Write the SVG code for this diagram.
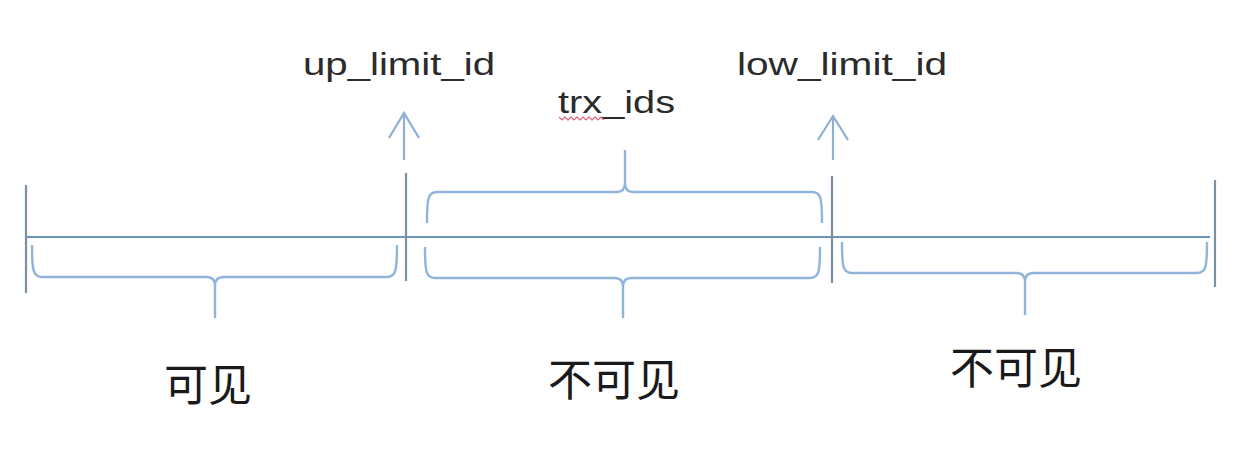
<svg xmlns="http://www.w3.org/2000/svg" width="1256" height="451" viewBox="0 0 1256 451">
<style>
.lbl{font-family:"Liberation Sans","Noto Sans",sans-serif;font-size:32px;fill:#2b2b2b}
.cjk{font-family:"Noto Sans CJK SC","Noto Sans",sans-serif;font-size:44px;fill:#1a1a1a;text-anchor:middle}
.axis{stroke:#6a93ba;stroke-width:2.2;fill:none}
.tick{stroke:#7b90a5;stroke-width:2.2;fill:none}
.brace{stroke:#90b4da;stroke-width:2.4;fill:none;stroke-linejoin:round}
.arrow{stroke:#8fb0d2;stroke-width:2.2;fill:none}
</style>
<rect width="1256" height="451" fill="#ffffff"/>
<g id="connectors">
<line class="axis" x1="26" y1="237" x2="1210" y2="237"/>
<line class="tick" x1="26" y1="185" x2="26" y2="293"/>
<line class="tick" x1="406" y1="173" x2="406" y2="281"/>
<line class="tick" x1="832" y1="176" x2="832" y2="283"/>
<line class="tick" x1="1215" y1="180" x2="1215" y2="287"/>
<path class="arrow" d="M404,160 V113 M389,138 L404,113 L419,138"/>
<path class="arrow" d="M833,160 V116 M818,140 L833,116 L848,140"/>
</g>
<g id="brace-visible">
<path class="brace" d="M32,245 C32,270 33,277 42,277 L207,277 C212,277 215,280 215,286 L215,318 M215,286 C215,280 218,277 223,277 L387,277 C396,277 397,270 397,245"/>
</g>
<g id="brace-trx">
<path class="brace" d="M427,223 C427,198 428,192 437,192 L617,192 C622,192 625,189 625,183 L625,150 M625,183 C625,189 628,192 633,192 L812,192 C821,192 822,198 822,223"/>
</g>
<g id="brace-invisible-mid">
<path class="brace" d="M425,247 C425,272 426,278 435,278 L615,278 C620,278 623,281 623,287 L623,318 M623,287 C623,281 626,278 631,278 L810,278 C819,278 820,272 820,247"/>
</g>
<g id="brace-invisible-right">
<path class="brace" d="M842,242 C842,267 843,273 852,273 L1017,273 C1022,273 1025,276 1025,282 L1025,315 M1025,282 C1025,276 1028,273 1033,273 L1197,273 C1206,273 1207,267 1207,242"/>
</g>
<g id="label-up">
<text class="lbl" x="303" y="75" textLength="192" lengthAdjust="spacingAndGlyphs">up_limit_id</text>
</g>
<g id="label-trx">
<text class="lbl" x="558" y="113" textLength="117" lengthAdjust="spacingAndGlyphs">trx_ids</text>
<polyline points="559,117 562,120 565,117 568,120 571,117 574,120 577,117 580,120 583,117 586,120 589,117 592,120 595,117 598,120 601,117 604,120" fill="none" stroke="#e0607a" stroke-width="1.2"/>
</g>
<g id="label-low">
<text class="lbl" x="737" y="75" textLength="210" lengthAdjust="spacingAndGlyphs">low_limit_id</text>
</g>
<g id="label-visible">
<text class="cjk" x="208" y="401">可见</text>
</g>
<g id="label-invisible-mid">
<text class="cjk" x="614" y="396">不可见</text>
</g>
<g id="label-invisible-right">
<text class="cjk" x="1016" y="384">不可见</text>
</g>
</svg>
